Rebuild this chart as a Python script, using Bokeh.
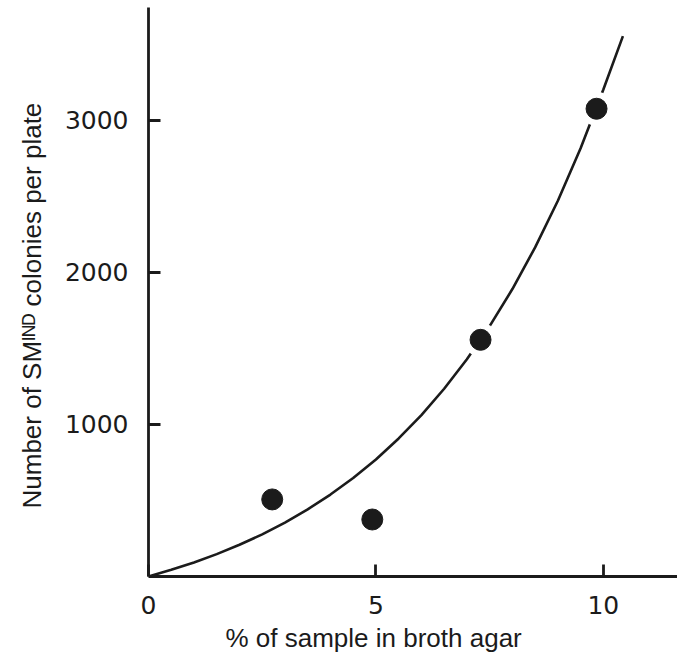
from bokeh.plotting import figure
from bokeh.models import FixedTicker, Range1d, Title
from bokeh.embed import file_html
from bokeh.resources import INLINE

# Data
sample_pct = [2.72, 4.92, 7.30, 9.85]
colonies = [507, 375, 1557, 3077]

# Fitted curve, points
curve_pct = [0.0, 0.5, 1.0, 1.5, 2.0, 2.5, 3.0, 3.5, 4.0, 4.5, 5.0, 5.5,
             6.0, 6.5, 7.0, 7.5, 8.0, 8.5, 9.0, 9.5, 10.0, 10.43]
curve_colonies = [0, 44, 92, 147, 209, 277, 355, 442, 539, 648, 770, 908,
                  1062, 1235, 1429, 1647, 1891, 2165, 2472, 2817, 3204, 3555]

x_ticks = [0, 5, 10]
y_ticks = [1000, 2000, 3000]
x_title = "% of sample in broth agar"
y_title = "Number of SM\u1d35\u1d3a\u1d30 colonies per plate"

INK = "#1b1b1b"

p = figure(width=677, height=657, output_backend="svg", toolbar_location=None,
           x_range=Range1d(0, 11.63), y_range=Range1d(0, 3743),
           min_border_left=148, min_border_right=0, min_border_top=7,
           min_border_bottom=81)
p.outline_line_color = None
p.xgrid.visible = False
p.ygrid.visible = False
p.background_fill_color = "white"
p.border_fill_color = "white"

p.line(curve_pct, curve_colonies, line_color=INK, line_width=2.6)
p.scatter(sample_pct, colonies, size=34, color="white", line_color=None)
p.scatter(sample_pct, colonies, size=21, fill_color=INK, line_color=INK)

for ax in (p.xaxis[0], p.yaxis[0]):
    ax.axis_line_color = INK
    ax.axis_line_width = 2.8
    ax.major_tick_line_color = INK
    ax.major_tick_line_width = 2.8
    ax.major_tick_in = 12
    ax.major_tick_out = 0
    ax.minor_tick_line_color = None
    ax.major_label_text_font = "DejaVu Sans"
    ax.major_label_text_font_size = "25px"
    ax.major_label_text_color = INK

p.xaxis[0].ticker = FixedTicker(ticks=x_ticks)
p.yaxis[0].ticker = FixedTicker(ticks=y_ticks)
p.xaxis[0].major_label_standoff = 19
p.yaxis[0].major_label_standoff = 20

p.add_layout(Title(text=x_title, align="left", offset=77, standoff=9,
                   text_font="Liberation Sans", text_font_size="26px",
                   text_font_style="normal", text_color=INK), "below")
p.add_layout(Title(text=y_title, align="left", offset=68, standoff=29,
                   text_font="Liberation Sans", text_font_size="26px",
                   text_font_style="normal", text_color=INK), "left")

open("out.html", "w").write(file_html(p, INLINE))
